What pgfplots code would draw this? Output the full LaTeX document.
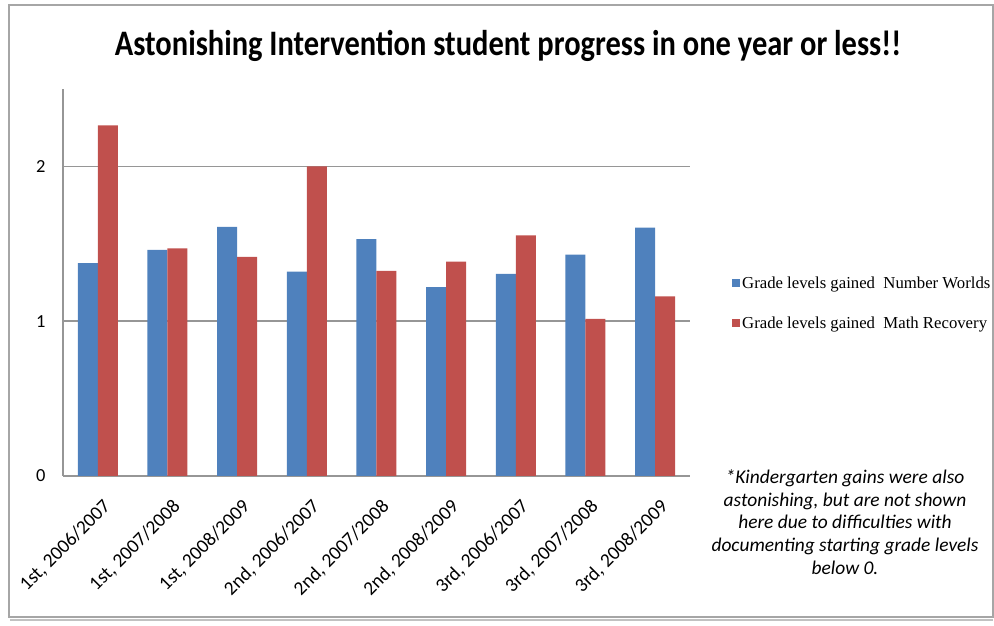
\documentclass[border=0pt]{standalone}
\usepackage{pgfplots}
\pgfplotsset{compat=1.18}
\usepackage{graphicx}
\usepackage{fontspec}
\setmainfont{Carlito}
\newfontfamily\legfont{Liberation Serif}
\definecolor{nwblue}{HTML}{4F81BD}
\definecolor{mrred}{HTML}{C0504D}
\definecolor{gridgray}{HTML}{969696}
\definecolor{framegray}{HTML}{A6A6A6}
\begin{document}
\begin{tikzpicture}
\draw[framegray, line width=2bp] (9bp,9bp) rectangle (993bp,621bp);
\draw[framegray!70, line width=2bp] (10bp,6bp) -- (993bp,6bp);
\node[anchor=base, font=\fontsize{36}{40}\selectfont\bfseries] at (508bp,570bp)
  {\scalebox{0.85}[1]{Astonishing Intervention student progress in one year or less!!}};
\begin{axis}[
  at={(63bp,150bp)}, anchor=south west,
  scale only axis, width=627bp, height=387bp,
  ybar=0pt, bar width=20bp,
  xmin=-0.5, xmax=8.5, ymin=0, ymax=2.5,
  xtick={0,...,8},
  xticklabels={{1st, 2006/2007},{1st, 2007/2008},{1st, 2008/2009},{2nd, 2006/2007},{2nd, 2007/2008},{2nd, 2008/2009},{3rd, 2006/2007},{3rd, 2007/2008},{3rd, 2008/2009}},
  ytick={0,1,2},
  axis lines*=left,
  axis line style={gridgray, line width=1.5bp, -},
  ymajorgrids, major grid style={gridgray, line width=1.5bp},
  major tick length=0pt,
  yticklabel style={font=\fontsize{18.5}{20}\selectfont, xshift=-14bp},
  /pgf/number format/assume math mode=true,
  xticklabel style={font=\fontsize{19.5}{21}\selectfont, xshift=4bp, yshift=-17bp, rotate=45, anchor=north east},
  legend style={at={(1,0.447)}, anchor=west, xshift=42bp, draw=none, fill=none,
    font=\legfont\fontsize{16.8}{19}\selectfont, row sep=23bp, inner sep=0pt},
  legend cell align=left,
  legend image code/.code={\fill[#1,draw=none] (0bp,-4bp) rectangle (8bp,4bp);},
]
\addplot[fill=nwblue, draw=none] coordinates {(0,1.375) (1,1.46) (2,1.61) (3,1.32) (4,1.53) (5,1.22) (6,1.305) (7,1.43) (8,1.605)};
\addplot[fill=mrred, draw=none] coordinates {(0,2.265) (1,1.47) (2,1.415) (3,2.0) (4,1.325) (5,1.385) (6,1.555) (7,1.015) (8,1.16)};
\legend{Grade levels gained\ \ Number Worlds, Grade levels gained\ \ Math Recovery}
\end{axis}
\node[align=center, font=\fontsize{19.5}{22.7}\selectfont\itshape] at (845bp,104bp)
  {*Kindergarten gains were also\\astonishing, but are not shown\\here due to difficulties with\\documenting starting grade levels\\below 0.};
\pgfresetboundingbox
\path[use as bounding box] (0,0) rectangle (994bp,626bp);
\end{tikzpicture}
\end{document}
